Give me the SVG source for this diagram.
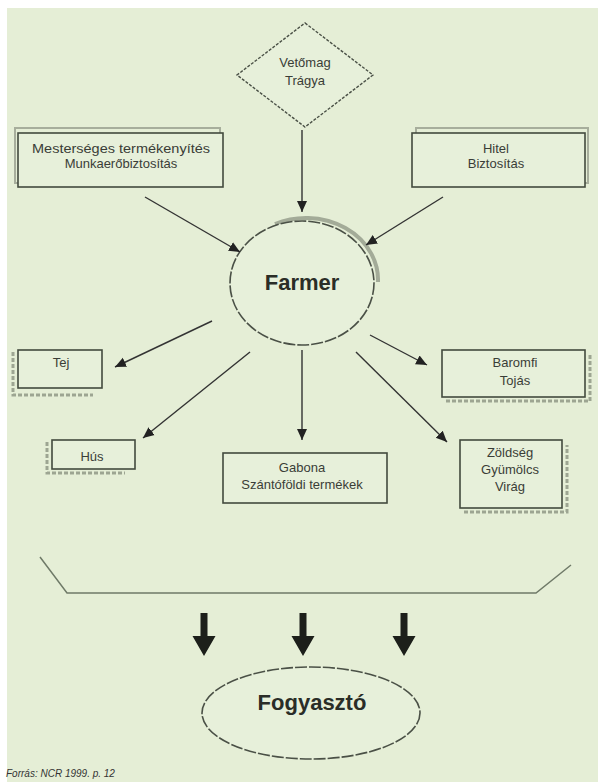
<svg xmlns="http://www.w3.org/2000/svg" width="598" height="782" viewBox="0 0 598 782">
<defs>
<marker id="ah" markerUnits="userSpaceOnUse" markerWidth="12" markerHeight="12" refX="11" refY="6" orient="auto">
<path d="M0,1 L11,6 L0,11 z" fill="#222"/>
</marker>
<path id="big" d="M-3.5,0 h7 v23 h8 l-11.5,20 l-11.5,-20 h8 z" fill="#1c1f1a"/>
</defs>
<style>
.bg{fill:#e5eed6}
.box{fill:#e7f0da;stroke:#434a3e;stroke-width:1.6}
.sh{fill:none;stroke:#9da592;stroke-width:3;stroke-dasharray:4 2}
.shs{fill:none;stroke:#a7ae9c;stroke-width:2}
.ell{fill:#e7f0da;stroke:#4a5046;stroke-width:1.6;stroke-dasharray:12 2}
.t{font-family:"Liberation Sans",Arial,sans-serif;font-size:13px;fill:#3a3d37;text-anchor:middle}
.b{font-family:"Liberation Sans",Arial,sans-serif;font-size:22px;font-weight:bold;fill:#2a2d27;text-anchor:middle}
.c{stroke:#333;stroke-width:1.4;fill:none;marker-end:url(#ah)}
</style>
<rect x="0" y="0" width="598" height="782" fill="#fff"/>
<rect class="bg" x="7" y="8" width="591" height="774"/>

<g id="n-vetomag">
<polygon points="305,23 373,75 305,127 237,75" fill="#e7f0da" stroke="#4a5046" stroke-width="1.4" stroke-dasharray="3 1.5"/>
<text class="t" x="305" y="67">Vetőmag</text>
<text class="t" x="305" y="85">Trágya</text>
</g>

<g id="n-mesterseges">
<rect class="shs" x="15" y="128" width="205" height="55"/>
<rect class="box" x="18" y="133" width="205" height="54"/>
<text class="t" x="121" y="153" textLength="178" lengthAdjust="spacingAndGlyphs">Mesterséges termékenyítés</text>
<text class="t" x="121" y="168">Munkaerőbiztosítás</text>
</g>

<g id="n-hitel">
<rect class="shs" x="416" y="128" width="172" height="55"/>
<rect class="box" x="412" y="133" width="173" height="54"/>
<text class="t" x="496" y="153">Hitel</text>
<text class="t" x="496" y="168">Biztosítás</text>
</g>

<g id="n-farmer">
<path d="M275,224 A72,62 0 0 1 378,282" fill="none" stroke="#a3ab98" stroke-width="4"/>
<ellipse class="ell" cx="302" cy="283" rx="72" ry="62"/>
<text class="b" x="302" y="290">Farmer</text>
</g>

<g id="n-tej">
<polyline class="sh" points="13,352 13,395 93,395"/>
<rect class="box" x="18" y="350" width="84" height="38"/>
<text class="t" x="61" y="367">Tej</text>
</g>

<g id="n-hus">
<polyline class="sh" points="47,442 47,473 125,473"/>
<rect class="box" x="52" y="440" width="83" height="29"/>
<text class="t" x="92" y="461">Hús</text>
</g>

<g id="n-gabona">
<rect class="box" x="223" y="453" width="164" height="50"/>
<text class="t" x="302" y="472">Gabona</text>
<text class="t" x="302" y="489">Szántóföldi termékek</text>
</g>

<g id="n-baromfi">
<polyline class="sh" points="446,401 590,401 590,354"/>
<rect class="box" x="442" y="350" width="143" height="47"/>
<text class="t" x="515" y="367">Baromfi</text>
<text class="t" x="515" y="385">Tojás</text>
</g>

<g id="n-zoldseg">
<polyline class="sh" points="464,512 567,512 567,445"/>
<rect class="box" x="460" y="440" width="102" height="68"/>
<text class="t" x="510" y="457">Zöldség</text>
<text class="t" x="510" y="474">Gyümölcs</text>
<text class="t" x="510" y="491">Virág</text>
</g>

<g id="connectors">
<line class="c" x1="302" y1="130" x2="302" y2="212"/>
<line class="c" x1="145" y1="197" x2="240" y2="252"/>
<line class="c" x1="443" y1="197" x2="366" y2="245"/>
<line class="c" x1="212" y1="321" x2="115" y2="367"/>
<line class="c" x1="250" y1="352" x2="143" y2="438"/>
<line class="c" x1="302" y1="350" x2="302" y2="440"/>
<line class="c" x1="370" y1="335" x2="427" y2="365"/>
<line class="c" x1="356" y1="352" x2="447" y2="442"/>
<polyline points="40,557 67,593 536,593 571,565" fill="none" stroke="#6f7a68" stroke-width="1.5"/>
<use href="#big" x="204" y="613"/>
<use href="#big" x="303" y="613"/>
<use href="#big" x="404" y="613"/>
</g>

<g id="n-fogyaszto">
<ellipse class="ell" cx="311" cy="713" rx="109" ry="46"/>
<text class="b" x="312" y="710" font-size="23">Fogyasztó</text>
</g>

<text x="6" y="777" font-family="'Liberation Sans',Arial,sans-serif" font-size="10" font-style="italic" fill="#333">Forrás: NCR 1999. p. 12</text>
</svg>
